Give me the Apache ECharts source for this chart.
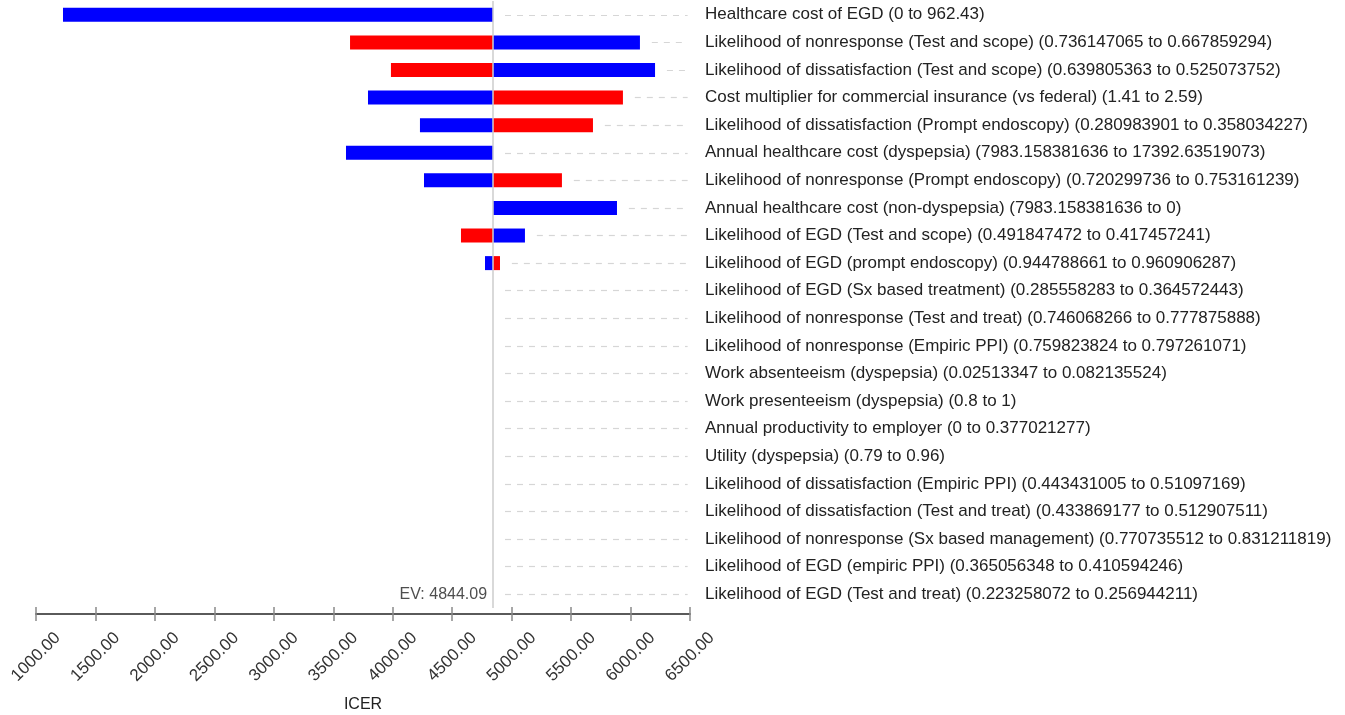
<!DOCTYPE html>
<html>
<head>
<meta charset="utf-8">
<script src="https://cdn.jsdelivr.net/npm/echarts@6/dist/echarts.min.js"></script>
<style>
  html, body { margin: 0; padding: 0; background: #fff; }
  #chart { width: 1345px; height: 715px; }
</style>
</head>
<body>
<div id="chart"></div>
<script>
// expected value (base case ICER)
const ev = 4844.09

const params = [
  'Healthcare cost of EGD (0 to 962.43)',
  'Likelihood of nonresponse (Test and scope) (0.736147065 to 0.667859294)',
  'Likelihood of dissatisfaction (Test and scope) (0.639805363 to 0.525073752)',
  'Cost multiplier for commercial insurance (vs federal) (1.41 to 2.59)',
  'Likelihood of dissatisfaction (Prompt endoscopy) (0.280983901 to 0.358034227)',
  'Annual healthcare cost (dyspepsia) (7983.158381636 to 17392.63519073)',
  'Likelihood of nonresponse (Prompt endoscopy) (0.720299736 to 0.753161239)',
  'Annual healthcare cost (non-dyspepsia) (7983.158381636 to 0)',
  'Likelihood of EGD (Test and scope) (0.491847472 to 0.417457241)',
  'Likelihood of EGD (prompt endoscopy) (0.944788661 to 0.960906287)',
  'Likelihood of EGD (Sx based treatment) (0.285558283 to 0.364572443)',
  'Likelihood of nonresponse (Test and treat) (0.746068266 to 0.777875888)',
  'Likelihood of nonresponse (Empiric PPI) (0.759823824 to 0.797261071)',
  'Work absenteeism (dyspepsia) (0.02513347 to 0.082135524)',
  'Work presenteeism (dyspepsia) (0.8 to 1)',
  'Annual productivity to employer (0 to 0.377021277)',
  'Utility (dyspepsia) (0.79 to 0.96)',
  'Likelihood of dissatisfaction (Empiric PPI) (0.443431005 to 0.51097169)',
  'Likelihood of dissatisfaction (Test and treat) (0.433869177 to 0.512907511)',
  'Likelihood of nonresponse (Sx based management) (0.770735512 to 0.831211819)',
  'Likelihood of EGD (empiric PPI) (0.365056348 to 0.410594246)',
  'Likelihood of EGD (Test and treat) (0.223258072 to 0.256944211)'
]

// ICER at the first value of the range (blue) and at the second value (red)
const icerFirst = [1227, 6079, 6206, 3792, 4229, 3607, 4263, 5886, 5112, 4776,
  ev, ev, ev, ev, ev, ev, ev, ev, ev, ev, ev, ev]
const icerSecond = [ev, 3641, 3985, 5936, 5684, ev, 5423, ev, 4574, 4902,
  ev, ev, ev, ev, ev, ev, ev, ev, ev, ev, ev, ev]

// x axis ticks
const xMin = 1000
const xMax = 6500
const xStep = 500

const blue = '#0000ff'
const red = '#ff0000'
const font = 'Liberation Sans, Arial, sans-serif'

const leftVal = params.map((p, i) => Math.min(icerFirst[i], icerSecond[i]))
const rightVal = params.map((p, i) => Math.max(icerFirst[i], icerSecond[i]))
const firstIsLeft = params.map((p, i) => icerFirst[i] <= icerSecond[i])

const myChart = echarts.init(document.getElementById('chart'))

const axisBase = {
  type: 'value',
  min: xMin,
  max: xMax,
  interval: xStep,
  position: 'bottom',
  offset: 6,
  splitLine: { show: false }
}

const option = {
  animation: false,
  grid: { left: 36, width: 654, top: 1, height: 607, outerBoundsMode: 'none', containLabel: false },
  xAxis: [
    Object.assign({}, axisBase, {
      name: 'ICER',
      nameLocation: 'middle',
      nameGap: 83,
      nameTextStyle: { fontFamily: font, fontSize: 16, color: '#222' },
      axisLine: { show: true, lineStyle: { color: '#5a5a5a', width: 2 } },
      axisTick: { show: true, length: 7, lineStyle: { color: '#8a8a8a', width: 1.5 } },
      axisLabel: {
        rotate: 45,
        align: 'center',
        verticalAlign: 'middle',
        fontFamily: font,
        fontSize: 17,
        color: '#333',
        margin: 43,
        formatter: v => v.toFixed(2)
      }
    }),
    Object.assign({}, axisBase, {
      axisLine: { show: false },
      axisTick: { show: true, inside: true, length: 7, lineStyle: { color: '#8a8a8a', width: 1.5 } },
      axisLabel: { show: false }
    })
  ],
  yAxis: {
    type: 'category',
    data: params,
    inverse: true,
    position: 'right',
    axisLine: { show: false },
    axisTick: { show: false },
    axisLabel: {
      fontFamily: font,
      fontSize: 17,
      color: '#222',
      margin: 15,
      align: 'left',
      padding: [4, 0, 0, 0]
    }
  },
  series: [
    {
      type: 'bar',
      stack: 'tornado',
      barWidth: 14,
      silent: true,
      itemStyle: { color: 'transparent' },
      data: leftVal
    },
    {
      type: 'bar',
      stack: 'tornado',
      barWidth: 14,
      data: leftVal.map((v, i) => ({
        value: ev - v,
        itemStyle: { color: firstIsLeft[i] ? blue : red }
      })),
      markLine: {
        silent: true,
        symbol: 'none',
        label: { show: false },
        lineStyle: { color: '#cccccc', type: 'solid', width: 1.5 },
        data: [{ xAxis: ev }]
      }
    },
    {
      type: 'bar',
      stack: 'tornado',
      barWidth: 14,
      data: rightVal.map((v, i) => ({
        value: v - ev,
        itemStyle: { color: firstIsLeft[i] ? red : blue }
      })),
      markLine: {
        silent: true,
        symbol: 'none',
        label: { show: false },
        lineStyle: { color: '#d6d6d6', type: [6, 6], width: 1.2 },
        data: params.map((p, i) => [
          { coord: [Math.max(rightVal[i], ev) + 100, p] },
          { coord: [6480, p] }
        ])
      }
    },
    {
      // EV label next to the last row
      type: 'scatter',
      symbolSize: 0,
      silent: true,
      data: [[ev, params[params.length - 1]]],
      label: {
        show: true,
        position: 'left',
        distance: 6,
        fontFamily: font,
        fontSize: 16,
        color: '#222',
        formatter: () => 'EV: ' + ev.toFixed(2)
      }
    }
  ]
}

myChart.setOption(option)
</script>
</body>
</html>
